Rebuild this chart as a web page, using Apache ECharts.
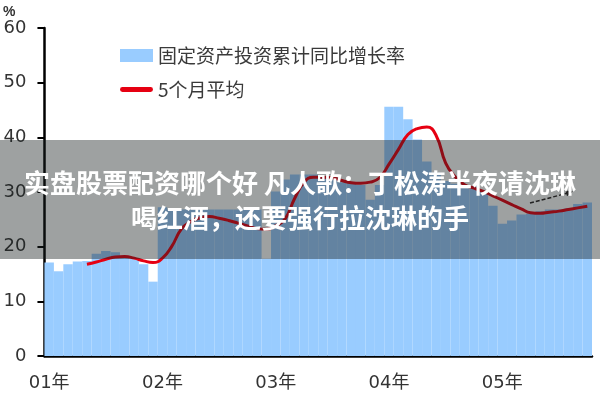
<!DOCTYPE html>
<html><head><meta charset="utf-8">
<script src="https://cdn.jsdelivr.net/npm/echarts@6/dist/echarts.min.js"></script>
<style>html,body{margin:0;padding:0;background:#fff}#c{width:600px;height:400px}</style>
</head><body><div id="c"></div>
<script>
const categories = [
 '2001-01','2001-02','2001-03','2001-04','2001-05','2001-06','2001-07','2001-08','2001-09','2001-10','2001-11','2001-12',
 '2002-01','2002-02','2002-03','2002-04','2002-05','2002-06','2002-07','2002-08','2002-09','2002-10','2002-11','2002-12',
 '2003-01','2003-02','2003-03','2003-04','2003-05','2003-06','2003-07','2003-08','2003-09','2003-10','2003-11','2003-12',
 '2004-01','2004-02','2004-03','2004-04','2004-05','2004-06','2004-07','2004-08','2004-09','2004-10','2004-11','2004-12',
 '2005-01','2005-02','2005-03','2005-04','2005-05','2005-06','2005-07','2005-08','2005-09','2005-10'
];
const yearLabels = ['01年','02年','03年','04年','05年'];
const seriesNames = ['固定资产投资累计同比增长率','5个月平均'];
const growthRate = [
 17.1,15.5,16.8,17.3,17.4,18.7,19.2,19.0,18.0,17.8,16.8,13.6,
 27.2,26.8,26.8,26.8,26.8,26.8,26.8,26.8,26.8,26.8,26.8,17.8,
 30.1,32.3,33.2,33.2,33.2,32.8,32.3,31.8,31.8,31.3,28.6,31.3,
 45.6,45.6,43.3,39.6,35.6,33.5,32.0,31.5,31.0,31.0,30.0,27.5,
 24.2,24.8,25.9,26.0,26.5,26.8,26.8,27.0,27.8,28.1
];
const avg5 = [
 null,null,null,null,16.8,17.2,17.7,18.1,18.2,17.9,17.4,17.1,
 17.9,20.1,23.2,24.6,25.3,25.5,25.2,24.8,24.3,23.8,23.3,23.2,
 23.8,25.1,28.8,31.8,32.7,32.7,32.6,32.1,31.7,31.6,31.8,32.6,
 35.1,37.8,40.5,41.6,41.9,40.3,35.3,32.8,31.3,30.7,30.1,29.3,
 28.5,27.7,26.9,26.2,26.1,26.3,26.5,26.8,27.1,27.4
];
const overlayLines = ['实盘股票配资哪个好 凡人歌：丁松涛半夜请沈琳','喝红酒，还要强行拉沈琳的手'];

const chart = echarts.init(document.getElementById('c'));
chart.setOption({
  animation: false,
  grid: {left: 44, right: 8, top: 28, bottom: 44},
  legend: {
    orient: 'vertical', left: 115, top: 41, itemWidth: 33, itemHeight: 13, itemGap: 15,
    textStyle: {fontSize: 19, color: '#3a3a3a', fontFamily: 'Noto Sans CJK SC'},
    data: [
      {name: seriesNames[0], icon: 'rect'},
      {name: seriesNames[1], icon: 'path://M3,0L37,0A3,3 0 0 1 37,6L3,6A3,3 0 0 1 3,0Z'}
    ]
  },
  xAxis: {
    type: 'category', data: categories, boundaryGap: true,
    axisLine: {lineStyle: {color: '#000', width: 2.5}},
    axisTick: {interval: 11, length: 7, lineStyle: {color: '#000', width: 2.5}},
    axisLabel: {interval: 11, margin: 18, fontSize: 18, color: '#333',
      fontFamily: "'DejaVu Sans', 'Noto Sans CJK SC'",
      formatter: function (v, i) { return yearLabels[Math.floor(i / 12)]; }}
  },
  yAxis: {
    type: 'value', min: 0, max: 60, interval: 10,
    name: '%', nameLocation: 'end', nameGap: 9,
    nameTextStyle: {align: 'right', padding: [0, 29, 0, 0], fontSize: 14, fontWeight: 'bold', color: '#333'},
    axisLine: {show: true, lineStyle: {color: '#000', width: 2.5}},
    axisTick: {show: true, length: 7, lineStyle: {color: '#000', width: 2}},
    axisLabel: {margin: 18, fontSize: 18, color: '#333', fontFamily: 'DejaVu Sans'},
    splitLine: {show: false}
  },
  series: [
    {name: seriesNames[0], type: 'bar', data: growthRate, barCategoryGap: '0%',
     itemStyle: {color: '#99ccff'}, z: 1},
    {name: seriesNames[1], type: 'line', data: avg5, smooth: true, symbol: 'none',
     lineStyle: {color: '#e60012', width: 3}, itemStyle: {color: '#e60012'}, z: 3}
  ],
  graphic: [
    {type: 'rect', shape: {x: 0, y: 140, width: 600, height: 119},
     style: {fill: 'rgba(25,32,32,0.42)'}, z: 100},
    {type: 'line', shape: {x1: 530, y1: 203, x2: 568, y2: 193},
     style: {stroke: '#222', lineWidth: 1.5, lineDash: [4, 2]}, z: 101},
    {type: 'polygon', shape: {points: [[573, 191.5], [565.4, 190.4], [567, 196.2]]},
     style: {fill: '#222'}, z: 101},
    {type: 'text', x: 300, y: 183, z: 102,
     style: {text: overlayLines[0], fill: '#fff', fontSize: 26, fontWeight: 'bold',
             fontFamily: 'Noto Sans CJK SC', align: 'center', verticalAlign: 'middle'}},
    {type: 'text', x: 300, y: 218, z: 102,
     style: {text: overlayLines[1], fill: '#fff', fontSize: 26, fontWeight: 'bold',
             fontFamily: 'Noto Sans CJK SC', align: 'center', verticalAlign: 'middle'}}
  ]
});
</script></body></html>
